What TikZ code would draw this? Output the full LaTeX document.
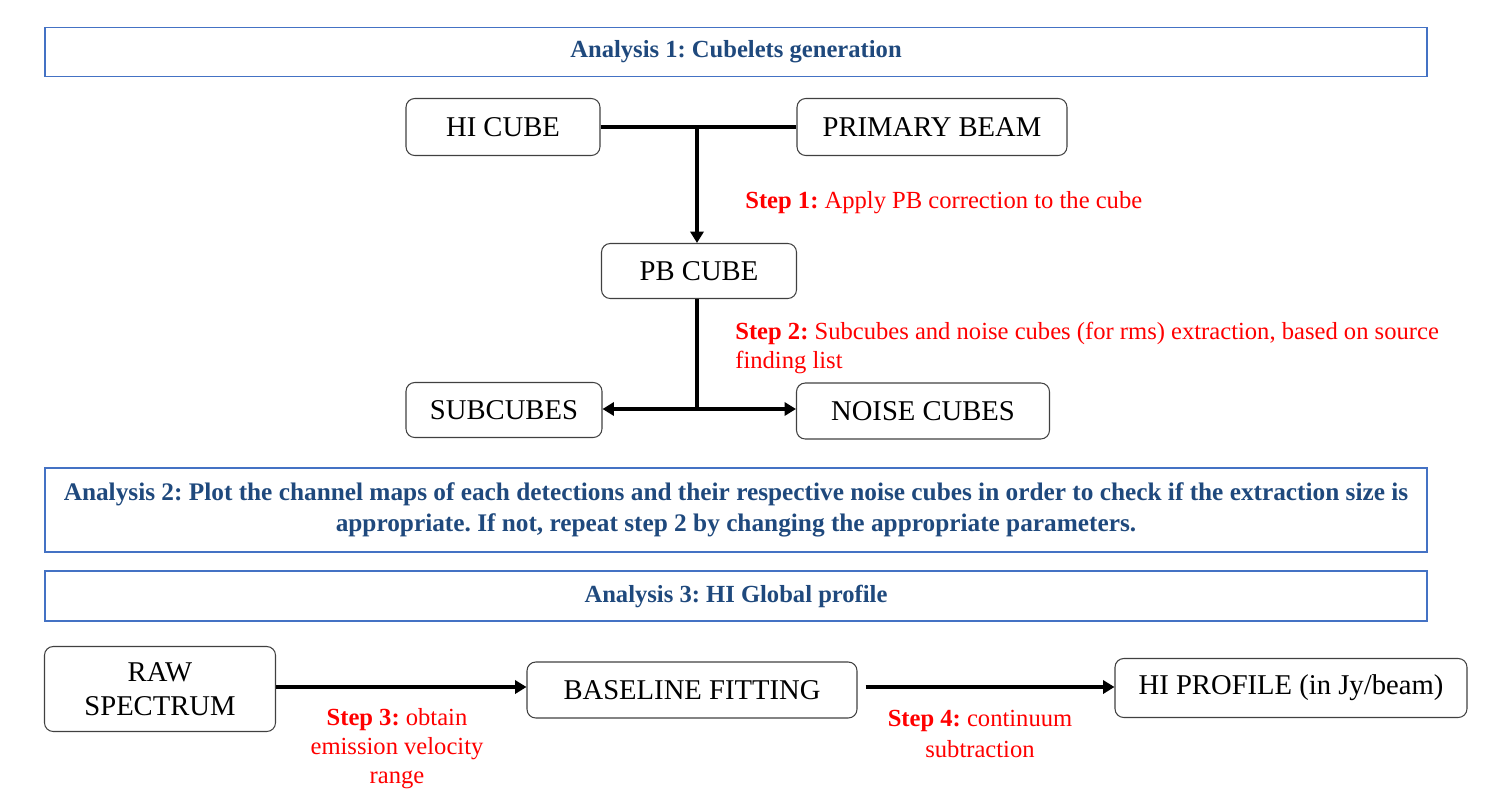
\documentclass[tikz,border=0pt]{standalone}
\usepackage{fontspec}
\setmainfont{Liberation Serif}
\usepackage{tikz}
\usetikzlibrary{arrows.meta, positioning}
\usepackage{xcolor}
\definecolor{framblue}{RGB}{68,114,196}
\definecolor{titleblue}{RGB}{31,73,125}
\definecolor{steprd}{RGB}{255,0,0}
\frenchspacing

\tikzset{
	stage/.style={draw=black!75, line width=0.6pt, rounded corners=5pt, inner sep=0pt, font=\fontsize{16.3}{19.5}\selectfont, align=center},
	analysis/.style={draw=framblue, line width=1.1pt, inner sep=0pt, text=titleblue, font=\fontsize{14}{16.5}\selectfont\bfseries, align=center},
	steptext/.style={text=steprd, font=\fontsize{14}{16.5}\selectfont, inner sep=0pt},
	flow/.style={line width=2.1pt, -{Triangle[length=6.5pt,width=7.5pt]}},
	joint/.style={line width=2.1pt}
}

\begin{document}
\begin{tikzpicture}[x=0.02cm, y=-0.02cm]
		\useasboundingbox (0,0) rectangle (1512,808);
		
		% analysis 1
		\node[analysis, minimum width=1382*0.02cm, minimum height=49*0.02cm] (ana1) at (736,52) {Analysis 1: Cubelets generation};
		
		\node[stage, minimum width=194*0.02cm, minimum height=57*0.02cm] (hicube) at (503,127) {HI CUBE};
		\node[stage, minimum width=270*0.02cm, minimum height=57*0.02cm] (pbeam) at (932,127) {PRIMARY BEAM};
		\node[stage, minimum width=195*0.02cm, minimum height=55*0.02cm] (pbcube) at (699,271) {PB CUBE};
		\node[stage, minimum width=196*0.02cm, minimum height=55*0.02cm] (subcubes) at (504,410) {SUBCUBES};
		\node[stage, minimum width=253*0.02cm, minimum height=56*0.02cm] (noisecubes) at (923,411) {NOISE CUBES};
		
		\coordinate (join1) at (697,127);
		\coordinate (join2) at (697,409);
		\draw[joint] (hicube.east) -- (pbeam.west);
		\draw[flow] (join1) -- (join1 |- pbcube.north);
		\draw[joint] (pbcube.south -| join2) -- (join2);
		\draw[flow] (join2) -- (join2 -| subcubes.east);
		\draw[flow] (join2) -- (join2 -| noisecubes.west);
		
		\node[steptext, anchor=west] (step1) at (745,203) {\textbf{Step 1:} Apply PB correction to the cube};
		\node[steptext, anchor=north west, align=left] (step2) at (735,322) {\textbf{Step 2:} Subcubes and noise cubes (for rms) extraction, based on source\\finding list};
		
		% analysis 2
		\node[analysis, minimum width=1382*0.02cm, minimum height=84*0.02cm, font=\fontsize{14.4}{16.5}\selectfont\bfseries] (ana2) at (736,510) {Analysis 2: Plot the channel maps of each detections and their respective noise cubes in order to check if the extraction size is\\[1pt]appropriate. If not, repeat step 2 by changing the appropriate parameters.};
		
		% analysis 3
		\node[analysis, minimum width=1382*0.02cm, minimum height=50*0.02cm] (ana3) at (736,596) {Analysis 3: HI Global profile};
		
		\node[stage, minimum width=231*0.02cm, minimum height=85*0.02cm] (rawspec) at (160,689) {RAW\\SPECTRUM};
		\node[stage, minimum width=330*0.02cm, minimum height=56*0.02cm] (baseline) at (692,690) {BASELINE FITTING};
		\node[stage, minimum width=352*0.02cm, minimum height=59*0.02cm] (hiprofile) at (1291,688) {HI PROFILE (in Jy/beam)};
		
		\draw[flow] (rawspec.east |- 0,687) -- (baseline.west |- 0,687);
		\draw[flow] ([xshift=8*0.02cm]baseline.east |- 0,687) -- (hiprofile.west |- 0,687);
		
		\node[steptext, align=center, anchor=north] (step3) at (397,708) {\textbf{Step 3:} obtain\\emission velocity\\range};
		\node[steptext, align=center, anchor=north] (step4) at (980,710) {\textbf{Step 4:} continuum\\[1pt]subtraction};
	\end{tikzpicture}
\end{document}
